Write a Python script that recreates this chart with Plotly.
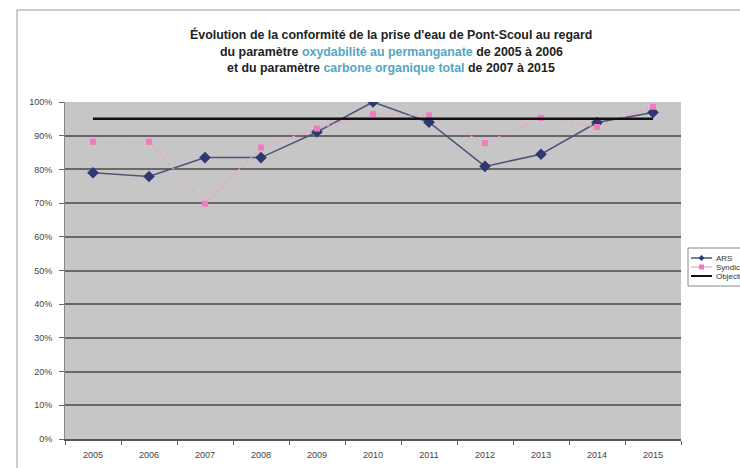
import plotly.graph_objects as go

years = ["2005", "2006", "2007", "2008", "2009", "2010", "2011", "2012", "2013", "2014", "2015"]
ars = [0.790, 0.779, 0.835, 0.835, 0.911, 1.000, 0.940, 0.809, 0.845, 0.939, 0.969]
syndicat = [0.882, 0.882, 0.698, 0.865, 0.921, 0.964, 0.960, 0.878, 0.953, 0.926, 0.986]
objectif = [0.95] * len(years)
y_ticks = [0, 0.1, 0.2, 0.3, 0.4, 0.5, 0.6, 0.7, 0.8, 0.9, 1.0]
series_names = ["ARS", "Syndicat", "Objectif"]

W, H = 740, 468
# plot area in page pixels
PL, PR, PT, PB = 65, 681, 102, 439


def px(x):
    return (x - PL) / (PR - PL)


def py(y):
    return (PB - y) / (PB - PT)


ARS_LINE, ARS_MK = "#4d5379", "#2f3873"
SYN_LINE, SYN_MK = "#f59ccd", "#f07cbe"
OBJ = "#111111"

fig = go.Figure()
fig.add_trace(go.Scatter(x=years, y=ars, name=series_names[0], mode="lines+markers",
                         line=dict(color=ARS_LINE, width=1.5),
                         marker=dict(symbol="diamond", size=9, color=ARS_MK)))
fig.add_trace(go.Scatter(x=years, y=syndicat, name=series_names[1], mode="lines+markers",
                         line=dict(color=SYN_LINE, width=1.2, dash="dot"),
                         marker=dict(symbol="square", size=6, color=SYN_MK)))
fig.add_trace(go.Scatter(x=years, y=objectif, name=series_names[2], mode="lines",
                         line=dict(color=OBJ, width=2.5)))

font_fam = "Liberation Sans, Arial, sans-serif"
teal = "#52a7c0"
title_lines = [
    "Évolution de la conformité de la prise d'eau de Pont-Scoul au regard",
    f"du paramètre <span style='color:{teal}'>oxydabilité au permanganate</span> de 2005 à 2006",
    f"et du paramètre <span style='color:{teal}'>carbone organique total</span> de 2007 à 2015",
]
title_y = [35, 52, 68]
annotations = []
for txt, yy in zip(title_lines, title_y):
    annotations.append(dict(text=f"<b>{txt}</b>", x=px(391), y=py(yy), xref="paper", yref="paper",
                            showarrow=False, xanchor="center", yanchor="middle",
                            font=dict(size=12.4, color="#222222", family=font_fam)))

# compact legend (as in the reference, partly cut by the right edge)
shapes = [dict(type="rect", xref="paper", yref="paper",
               x0=px(17), x1=px(780), y0=py(490), y1=py(10),
               line=dict(color="#9a9a9a", width=1), layer="below"),
          dict(type="rect", xref="paper", yref="paper",
               x0=px(688), x1=px(780), y0=py(286), y1=py(248),
               line=dict(color="#888888", width=1), fillcolor="white")]
leg_y = [258, 267, 276]
leg_colors = [(ARS_LINE, ARS_MK, 1.5), (SYN_LINE, SYN_MK, 1.2), (OBJ, None, 2)]
for name, yy, (lc, mc, lw) in zip(series_names, leg_y, leg_colors):
    shapes.append(dict(type="line", xref="paper", yref="paper",
                       x0=px(691), x1=px(712), y0=py(yy), y1=py(yy),
                       line=dict(color=lc, width=lw)))
    annotations.append(dict(text=name, x=px(714), y=py(yy), xref="paper", yref="paper",
                            showarrow=False, xanchor="left", yanchor="middle",
                            font=dict(size=8, color="#333333", family=font_fam)))
cx = px(701.5)
dx = 3 / (PR - PL)
dy = 3 / (PB - PT)
cy = py(leg_y[0])
shapes.append(dict(type="path", xref="paper", yref="paper",
                   path=f"M {cx - dx} {cy} L {cx} {cy + dy} L {cx + dx} {cy} L {cx} {cy - dy} Z",
                   fillcolor=ARS_MK, line=dict(width=0)))
cy = py(leg_y[1])
shapes.append(dict(type="rect", xref="paper", yref="paper",
                   x0=cx - 2.5 / (PR - PL), x1=cx + 2.5 / (PR - PL),
                   y0=cy - 2.5 / (PB - PT), y1=cy + 2.5 / (PB - PT),
                   fillcolor=SYN_MK, line=dict(width=0)))

fig.update_layout(
    width=W, height=H,
    margin=dict(l=PL, r=W - PR, t=PT, b=H - PB),
    paper_bgcolor="white",
    plot_bgcolor="#c6c6c6",
    font=dict(family=font_fam, size=9, color="#444444"),
    annotations=annotations,
    shapes=shapes,
    showlegend=False,
    xaxis=dict(type="category", tickson="boundaries", ticks="outside", ticklen=4,
               tickcolor="#666666", showline=True, linecolor="#555555", linewidth=1.5,
               showgrid=False, tickfont=dict(size=9, color="#444444"), range=[-0.5, 10.5],
               ticklabelstandoff=6, automargin=False),
    yaxis=dict(range=[0, 1], tickvals=y_ticks, tickformat=".0%", ticks="outside", ticklen=5,
               tickcolor="#666666", showline=True, linecolor="#888888", linewidth=1,
               showgrid=True, gridcolor="#686868", gridwidth=1.5, zeroline=False,
               tickfont=dict(size=9, color="#444444"), ticklabelstandoff=5, automargin=False),
)

fig.write_html("out.html", config={"displayModeBar": False},
               post_script="document.body.style.margin='0';document.body.style.overflow='hidden';")
